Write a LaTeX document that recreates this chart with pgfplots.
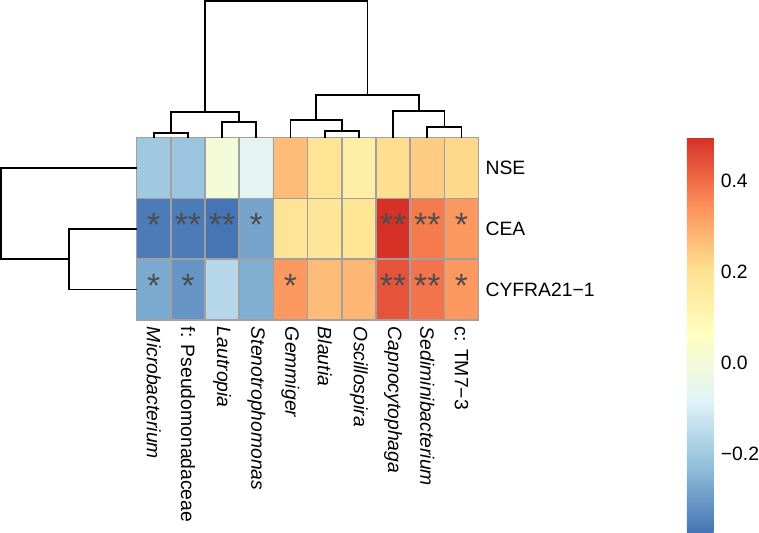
\documentclass[border=0pt]{standalone}
\usepackage{fontspec}
\setmainfont{Liberation Sans}
\usepackage{pgfplots}
\pgfplotsset{compat=1.18}
\usepackage{pgfplotstable}

\definecolor{cellgrid}{RGB}{160,160,160}
\definecolor{stargray}{RGB}{77,77,77}
\newcommand\lbl{\fontsize{9.75}{11.5}\selectfont}
\tikzset{dend/.style={black, line width=0.85pt, mark=none}}

% correlations, rows bottom to top (CYFRA21-1, CEA, NSE), columns in dendrogram order
\pgfplotstableread{
x y c
0.5 0.5 -0.27
1.5 0.5 -0.31
2.5 0.5 -0.16
3.5 0.5 -0.26
4.5 0.5 0.33
5.5 0.5 0.27
6.5 0.5 0.28
7.5 0.5 0.44
8.5 0.5 0.39
9.5 0.5 0.33
0.5 1.5 -0.36
1.5 1.5 -0.36
2.5 1.5 -0.373
3.5 1.5 -0.28
4.5 1.5 0.19
5.5 1.5 0.18
6.5 1.5 0.19
7.5 1.5 0.496
8.5 1.5 0.38
9.5 1.5 0.33
0.5 2.5 -0.20
1.5 2.5 -0.21
2.5 2.5 0.00
3.5 2.5 -0.07
4.5 2.5 0.27
5.5 2.5 0.19
6.5 2.5 0.14
7.5 2.5 0.21
8.5 2.5 0.24
9.5 2.5 0.22
}\heat

% significance marks
\pgfplotstableread{
x y s
0.5 1.5 *
1.5 1.5 **
2.5 1.5 **
3.5 1.5 *
7.5 1.5 **
8.5 1.5 **
9.5 1.5 *
0.5 0.5 *
1.5 0.5 *
4.5 0.5 *
7.5 0.5 **
8.5 0.5 **
9.5 0.5 *
}\stars

\begin{document}
\begin{tikzpicture}
\begin{axis}[
    name=hm,
    scale only axis,
    width=172.5pt, height=92pt,
    xmin=0, xmax=10, ymin=0, ymax=3,
    enlargelimits=false,
    axis on top,
    colormap={rdylbu}{rgb255=(69,117,180) rgb255=(145,191,219) rgb255=(224,243,248)
        rgb255=(255,255,191) rgb255=(254,224,144) rgb255=(252,141,89) rgb255=(215,48,39)},
    point meta min=-0.373, point meta max=0.496,
    xtick={0.5,1.5,...,9.5},
    xticklabels={\textit{Microbacterium}, f: Pseudomonadaceae, \textit{Lautropia},
        \textit{Stenotrophomonas}, \textit{Gemmiger}, \textit{Blautia},
        \textit{Oscillospira}, \textit{Capnocytophaga}, \textit{Sediminibacterium}, c: TM7−3},
    xticklabel style={rotate=-90, anchor=west},
    ytick={0.5,1.5,2.5},
    yticklabels={CYFRA21−1, CEA, NSE},
    yticklabel pos=right,
    tick label style={font=\lbl},
    major tick length=0pt, minor tick length=0pt,
    minor xtick={1,...,9}, minor ytick={1,2},
    xminorgrids=true, yminorgrids=true,
    minor grid style={cellgrid, line width=0.8pt},
    axis line style={cellgrid, line width=0.8pt},
    colorbar,
    colorbar style={
        at={(parent axis.north east)}, anchor=north west, xshift=96.5pt,
        scale only axis, width=13.5pt, height=199pt,
        ytick={-0.2,0,0.2,0.4},
        yticklabels={−0.2, 0.0, 0.2, 0.4},
        tick label style={font=\lbl},
        yticklabel style={inner xsep=0pt, xshift=3.5pt},
        axis line style={draw=none},
        major tick length=0pt,
    },
]
\addplot[matrix plot*, mesh/cols=10, mesh/ordering=x varies, point meta=explicit]
    table[x=x, y=y, meta=c] \heat;
\addplot[only marks, mark=none, point meta=explicit symbolic,
    nodes near coords,
    nodes near coords style={anchor=center, yshift=2pt, text=stargray, font=\fontsize{17}{17}\selectfont}]
    table[x=x, y=y, meta=s] \stars;
\end{axis}

% column dendrogram, heights in pixels above the heatmap
\begin{axis}[
    at={(hm.north west)}, anchor=south west,
    scale only axis, width=172.5pt, height=69pt,
    xmin=0, xmax=10, ymin=0, ymax=138,
    hide axis, clip=false,
]
\addplot[dend] coordinates {(0.5,0) (0.5,5) (1.5,5) (1.5,0)};
\addplot[dend] coordinates {(2.5,0) (2.5,16) (3.5,16) (3.5,0)};
\addplot[dend] coordinates {(1.0,5) (1.0,26) (3.0,26) (3.0,16)};
\addplot[dend] coordinates {(5.5,0) (5.5,7) (6.5,7) (6.5,0)};
\addplot[dend] coordinates {(4.5,0) (4.5,18) (6.0,18) (6.0,7)};
\addplot[dend] coordinates {(8.5,0) (8.5,11) (9.5,11) (9.5,0)};
\addplot[dend] coordinates {(7.5,0) (7.5,27) (9.0,27) (9.0,11)};
\addplot[dend] coordinates {(5.25,18) (5.25,43) (8.25,43) (8.25,27)};
\addplot[dend] coordinates {(2.0,26) (2.0,138) (6.75,138) (6.75,43)};
\end{axis}

% row dendrogram
\begin{axis}[
    at={(hm.south west)}, anchor=south east,
    scale only axis, width=68.5pt, height=92pt,
    xmin=-137, xmax=0, ymin=0, ymax=3,
    hide axis, clip=false,
]
\addplot[dend] coordinates {(0,1.5) (-68,1.5) (-68,0.5) (0,0.5)};
\addplot[dend] coordinates {(0,2.5) (-137,2.5) (-137,1.0) (-68,1.0)};
\end{axis}
\end{tikzpicture}
\end{document}
